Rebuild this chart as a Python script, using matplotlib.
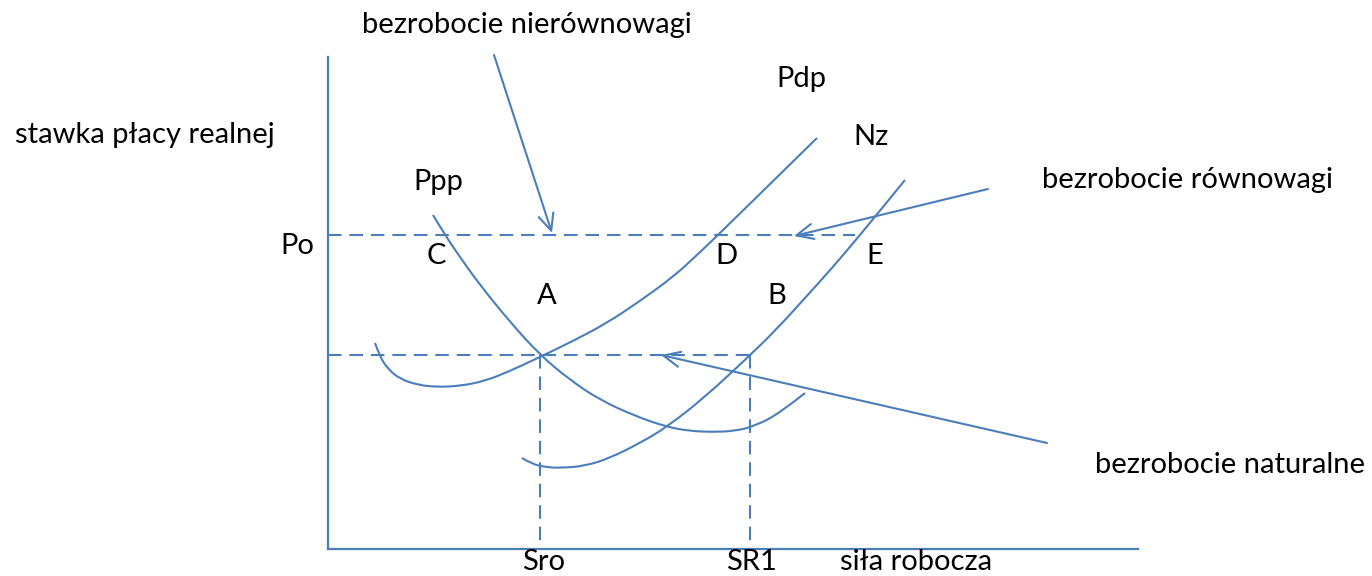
import matplotlib.pyplot as plt
from matplotlib.path import Path
from matplotlib.patches import PathPatch

# diagram drawn in pixel space of the original picture (y grows downwards)
BLUE = '#4a7ebb'

# axes of the diagram
y_axis_x = [328, 328]
y_axis_y = [57, 549]
x_axis_x = [328, 1138]
x_axis_y = [549, 549]

# guide lines (dashed)
po_line_x = [328, 855]
po_line_y = [235, 235]
low_line_x = [328, 750]
low_line_y = [355, 355]
sro_x = [540, 540]
sro_y = [355, 549]
sr1_x = [750, 750]
sr1_y = [355, 549]

# curves
ppp_x = [433, 445, 462, 480, 510, 540, 570, 600, 635, 667, 690, 713, 735, 755, 780, 805]
ppp_y = [215, 235, 260, 285, 322, 355, 380, 400, 416, 427, 431, 432, 431, 426, 413, 393]

pdp_x = [375, 380, 388, 400, 418, 437, 460, 485, 510, 540, 575, 607, 640, 673, 696, 718, 768, 817]
pdp_y = [343, 357, 369, 379, 385, 387, 386, 381, 371, 357, 340, 323, 301, 277, 256, 235, 186, 138]

nz_x = [522, 532, 545, 560, 585, 610, 640, 667, 705, 745, 775, 805, 833, 860, 883, 905]
nz_y = [458, 464, 467, 468, 466, 458, 443, 427, 397, 360, 331, 298, 267, 235, 207, 180]

# arrows: (start, tip)
arrows = [
    ((494, 55), (552, 233)),
    ((988, 189), (794, 236)),
    ((1047, 443), (661, 355)),
]

# labels: (x, y, text)
labels = [
    (362, 25, 'bezrobocie nierównowagi'),
    (776, 79, 'Pdp'),
    (15, 135, 'stawka płacy realnej'),
    (853, 137, 'Nz'),
    (413, 182, 'Ppp'),
    (1042, 180, 'bezrobocie równowagi'),
    (280, 246, 'Po'),
    (427, 256, 'C'),
    (715, 256, 'D'),
    (866, 256, 'E'),
    (537, 296, 'A'),
    (767, 296, 'B'),
    (1095, 465, 'bezrobocie naturalne'),
    (522, 562, 'Sro'),
    (726, 562, 'SR1'),
    (840, 562, 'siła robocza'),
]


def smooth_path(xs, ys):
    # quadratic bezier pieces through the midpoints, the points act as controls
    pts = list(zip(xs, ys))
    verts = [pts[0]]
    codes = [Path.MOVETO]
    for i in range(1, len(pts) - 1):
        mid = ((pts[i][0] + pts[i + 1][0]) / 2, (pts[i][1] + pts[i + 1][1]) / 2)
        if i == len(pts) - 2:
            mid = pts[-1]
        verts += [pts[i], mid]
        codes += [Path.CURVE3, Path.CURVE3]
    return Path(verts, codes)


def main():
    fig = plt.figure(figsize=(13.72, 5.76), dpi=100)
    ax = fig.add_axes([0, 0, 1, 1])
    ax.set_xlim(0, 1372)
    ax.set_ylim(576, 0)
    ax.axis('off')

    ax.plot(y_axis_x, y_axis_y, color=BLUE, lw=1.6)
    ax.plot(x_axis_x, x_axis_y, color=BLUE, lw=1.6)

    dash = (0, (6.5, 3.8))
    for xs, ys in [(po_line_x, po_line_y), (low_line_x, low_line_y),
                   (sro_x, sro_y), (sr1_x, sr1_y)]:
        ax.plot(xs, ys, color=BLUE, lw=1.5, linestyle=dash)

    for xs, ys in [(ppp_x, ppp_y), (pdp_x, pdp_y), (nz_x, nz_y)]:
        ax.add_patch(PathPatch(smooth_path(xs, ys), fill=False, edgecolor=BLUE, lw=1.5))

    for start, tip in arrows:
        ax.annotate('', xy=tip, xytext=start,
                    arrowprops=dict(arrowstyle='->,head_length=1.2,head_width=0.55',
                                    color=BLUE, lw=1.5, shrinkA=0, shrinkB=0))

    for x, y, t in labels:
        ax.text(x, y, t, fontsize=21, family='Lato', va='center', ha='left', color='black')

    fig.savefig('out.png', dpi=100)


if __name__ == "__main__":
    main()
